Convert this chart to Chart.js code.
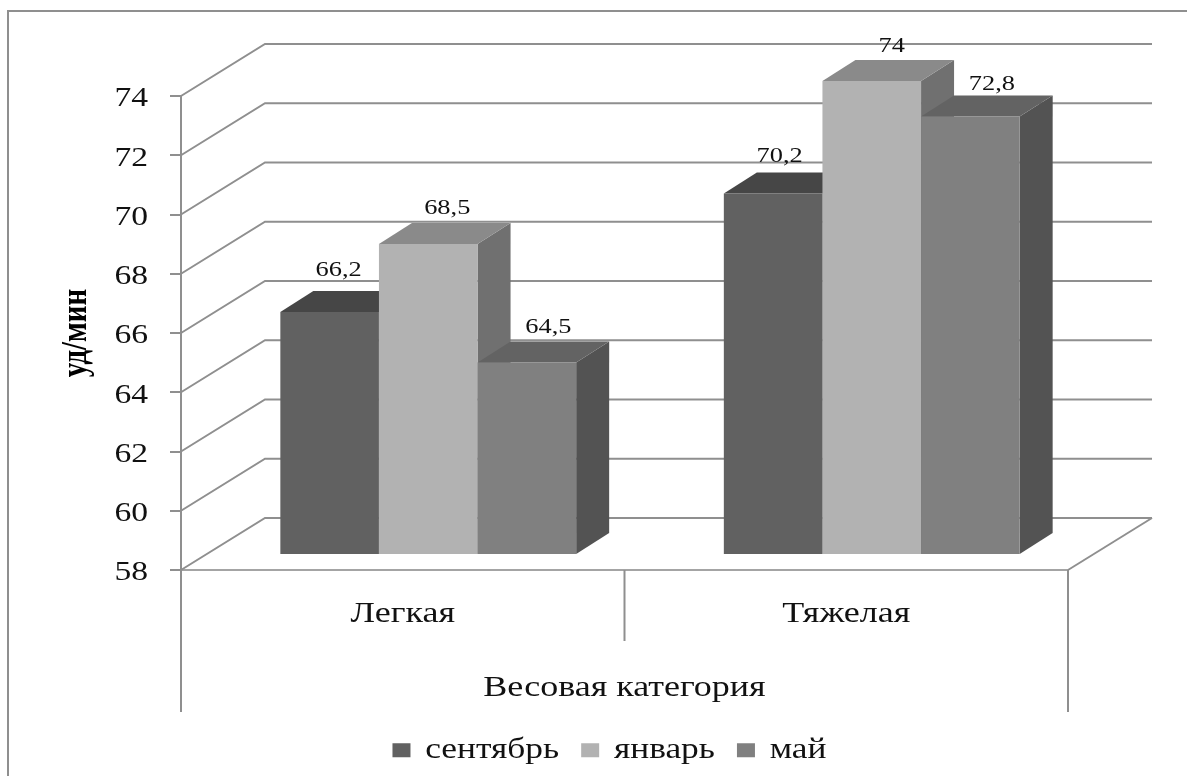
<!DOCTYPE html>
<html lang="ru">
<head>
<meta charset="utf-8">
<title>Пульс по весовым категориям</title>
<style>
  html, body { margin: 0; padding: 0; background: #fff; }
  canvas { display: block; }
</style>
<script src="https://cdn.jsdelivr.net/npm/chart.js@4/dist/chart.umd.min.js"></script>
</head>
<body>
<canvas id="chart" width="1187" height="776"></canvas>
<script>
// Values
const categories = ['Легкая', 'Тяжелая'];
const seriesNames = ['сентябрь', 'январь', 'май'];
const september = [66.2, 70.2];
const january = [68.5, 74];
const may = [64.5, 72.8];
const axisMin = 58;
const axisMax = 74;
const axisStep = 2;

// Face shades of each series
const frontColors = ['#616161', '#b2b2b2', '#808080'];
const topColors = ['#464646', '#8a8a8a', '#636363'];
const sideColors = ['#4a4a4a', '#707070', '#535353'];

const LINE = '#8f8f8f';
const FONT = '"Liberation Serif", "Times New Roman", serif';
const WALL = { dx: 84, dy: -52 };        // depth of the box
const BAR_PLANE = { dx: 25.5, dy: -15 }; // bars stand inside the box
const BAR_DEPTH = { dx: 33, dy: -21 };   // depth of a bar
const DROP_OUTER = 142;                  // outer axis lines below the floor
const DROP_INNER = 71;                   // divider between categories
// Value labels: shift from the top centre of a bar's front face
const labelShift = [
  [[9, 42], [6.5, 37]],
  [[19, 36], [20, 35]],
  [[21.5, 35], [21.5, 32.5]]
];

// Text in this figure is set wide: stretch glyphs along the screen x direction
const canvas = document.getElementById('chart');
const ctx = canvas.getContext('2d');
const WIDE = 1.2;
const rawFill = ctx.fillText.bind(ctx);
const rawMeasure = ctx.measureText.bind(ctx);
ctx.fillText = function (text, x, y, maxWidth) {
  const m = ctx.getTransform();
  const rotated = Math.abs(m.b) > 0.001;
  ctx.save();
  ctx.translate(x, y);
  ctx.scale(rotated ? 1 : WIDE, rotated ? WIDE : 1);
  if (maxWidth === undefined) rawFill(text, 0, 0); else rawFill(text, 0, 0, maxWidth / WIDE);
  ctx.restore();
};
ctx.measureText = function (text) {
  const r = rawMeasure(text);
  return { width: r.width * WIDE, actualBoundingBoxAscent: r.actualBoundingBoxAscent, actualBoundingBoxDescent: r.actualBoundingBoxDescent };
};

function stroke(c, points) {
  c.beginPath();
  points.forEach((p, i) => (i ? c.lineTo(p[0], p[1]) : c.moveTo(p[0], p[1])));
  c.stroke();
}
function fill(c, color, points) {
  c.fillStyle = color;
  c.beginPath();
  points.forEach((p, i) => (i ? c.lineTo(p[0], p[1]) : c.moveTo(p[0], p[1])));
  c.closePath();
  c.fill();
}

const boxPlugin = {
  id: 'box3d',
  beforeDraw(chart) {
    const c = chart.ctx;
    c.save();
    c.strokeStyle = LINE;
    c.lineWidth = 2;
    stroke(c, [[8, 776], [8, 11], [1187, 11]]);
    c.restore();
  },
  afterLayout(chart) {
    // Legend sits centred under the frame rather than under the plot box
    const lg = chart.legend;
    lg.left += 75.5;
    lg.right += 75.5;
    lg.top -= 1;
    lg.bottom -= 1;
  },
  beforeDatasetsDraw(chart) {
    const c = chart.ctx;
    const { x, y } = chart.scales;
    const a = chart.chartArea;
    c.save();
    c.strokeStyle = LINE;
    c.lineWidth = 2;
    // Back wall and left wall lines
    y.ticks.forEach((t) => {
      const py = y.getPixelForValue(t.value);
      stroke(c, [[a.left, py], [a.left + WALL.dx, py + WALL.dy], [a.right + WALL.dx, py + WALL.dy]]);
    });
    // Floor edge on the right
    stroke(c, [[a.right, a.bottom], [a.right + WALL.dx, a.bottom + WALL.dy]]);
    // Lines under the floor
    const mid = (x.getPixelForValue(0) + x.getPixelForValue(1)) / 2;
    stroke(c, [[a.left, a.bottom], [a.left, a.bottom + DROP_OUTER]]);
    stroke(c, [[a.right, a.bottom], [a.right, a.bottom + DROP_OUTER]]);
    stroke(c, [[mid, a.bottom], [mid, a.bottom + DROP_INNER]]);
    c.restore();

    // Series go left to right so each bar overlaps the side of the previous one
    c.save();
    c.translate(BAR_PLANE.dx, BAR_PLANE.dy);
    chart.data.datasets.forEach((ds, i) => {
      const meta = chart.getDatasetMeta(i);
      meta.data.forEach((bar) => {
        const l = bar.x - bar.width / 2;
        const r = bar.x + bar.width / 2;
        const d = BAR_DEPTH;
        fill(c, sideColors[i], [[r, bar.y], [r + d.dx, bar.y + d.dy], [r + d.dx, bar.base + d.dy], [r, bar.base]]);
        fill(c, topColors[i], [[l, bar.y], [l + d.dx, bar.y + d.dy], [r + d.dx, bar.y + d.dy], [r, bar.y]]);
        bar.draw(c);
      });
    });
    c.restore();

    // Value labels
    c.save();
    c.fillStyle = '#111';
    c.font = '22px ' + FONT;
    c.textAlign = 'center';
    c.textBaseline = 'middle';
    chart.data.datasets.forEach((ds, i) => {
      chart.getDatasetMeta(i).data.forEach((bar, j) => {
        const text = String(ds.data[j]).replace('.', ',');
        const s = labelShift[i][j];
        c.fillText(text, bar.x + BAR_PLANE.dx + s[0], bar.y + BAR_PLANE.dy - s[1]);
      });
    });
    c.restore();
    return false;
  }
};

new Chart(ctx, {
  type: 'bar',
  data: {
    labels: categories,
    datasets: [
      { label: seriesNames[0], data: september, backgroundColor: frontColors[0], base: axisMin },
      { label: seriesNames[1], data: january, backgroundColor: frontColors[1], base: axisMin },
      { label: seriesNames[2], data: may, backgroundColor: frontColors[2], base: axisMin }
    ]
  },
  plugins: [boxPlugin],
  options: {
    responsive: false,
    animation: false,
    events: [],
    layout: { padding: { left: 0, top: 96, right: 119, bottom: 0 } },
    datasets: { bar: { categoryPercentage: 0.667, barPercentage: 1, borderWidth: 0 } },
    plugins: {
      title: { display: false },
      tooltip: { enabled: false },
      legend: {
        position: 'bottom',
        labels: {
          color: '#111',
          font: { family: FONT, size: 29.5 },
          boxWidth: 18,
          boxHeight: 14,
          padding: 22
        }
      }
    },
    scales: {
      x: {
        grid: { display: true, drawOnChartArea: false, drawTicks: false, color: LINE },
        border: { display: true, color: '#a4a4a4', width: 2 },
        ticks: { color: '#111', font: { family: FONT, size: 30 }, padding: 26, maxRotation: 0 },
        title: {
          display: true,
          text: 'Весовая категория',
          color: '#111',
          font: { family: FONT, size: 30 },
          padding: { top: 30, bottom: 8 }
        },
        afterFit(s) { s.height = 206 - (s.chart.legend ? s.chart.legend.height : 60); }
      },
      y: {
        min: axisMin,
        max: axisMax,
        ticks: { stepSize: axisStep, color: '#111', font: { family: FONT, size: 28 }, padding: 22, labelOffset: 3 },
        grid: { drawOnChartArea: false, drawTicks: true, tickLength: 11, color: LINE, lineWidth: 2 },
        border: { display: true, color: LINE, width: 2 },
        title: {
          display: true,
          text: 'уд/мин',
          color: '#000',
          font: { family: FONT, size: 29, weight: 'bold' },
          padding: { top: 60, bottom: 0 }
        },
        afterFit(s) { s.width = 181; }
      }
    }
  }
});
</script>
</body>
</html>
